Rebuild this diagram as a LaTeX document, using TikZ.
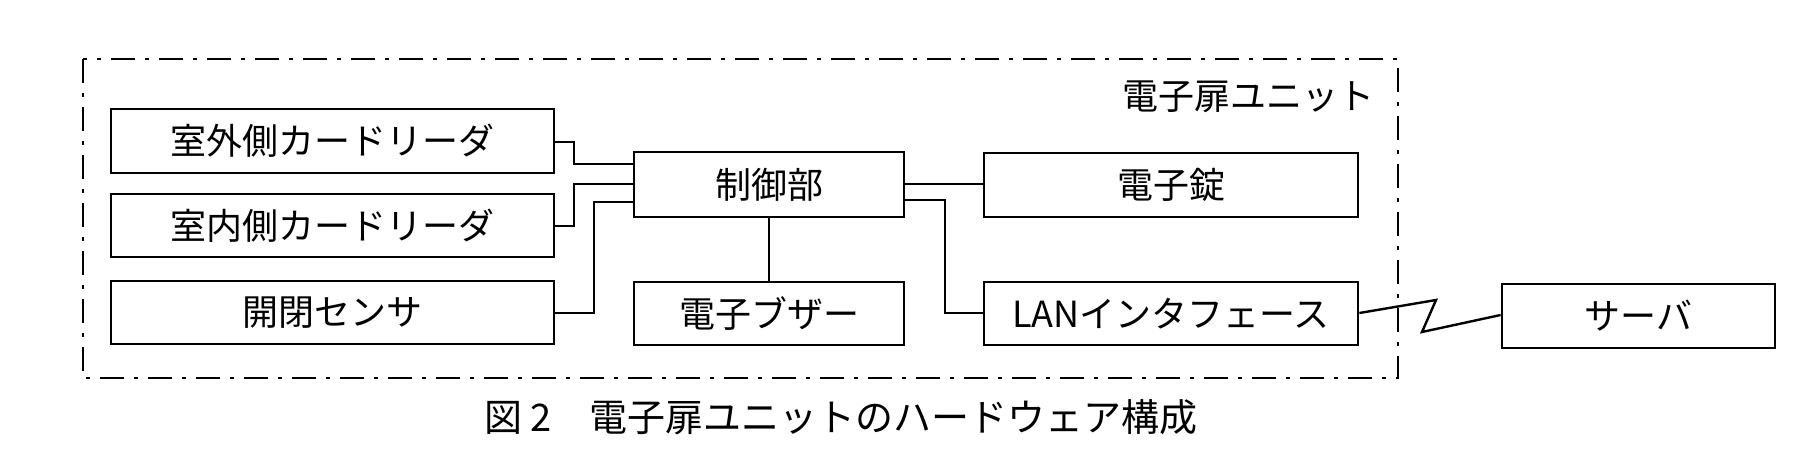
\documentclass[tikz,border=0pt]{standalone}
\usepackage{fontspec}
\setmainfont{Noto Sans CJK JP}
\begin{document}
\begin{tikzpicture}[x=1pt,y=-1pt,
  box/.style={draw,line width=2.8pt,inner sep=0pt,font=\fontsize{36}{36}\selectfont},
  wire/.style={line width=2pt}]
\useasboundingbox (0,0) rectangle (1794,474);
\draw[line width=2.2pt,dash pattern=on 24pt off 10pt on 4pt off 10pt] (83,59) rectangle (1398,378);
\node[anchor=east,font=\fontsize{36}{36}\selectfont] (unit) at (1378,97) {電子扉ユニット};
\node[box,minimum width=443pt,minimum height=64pt] (out) at (332.5,141) {室外側カードリーダ};
\node[box,minimum width=443pt,minimum height=63pt] (in) at (332.5,225.5) {室内側カードリーダ};
\node[box,minimum width=443pt,minimum height=63pt] (sen) at (332.5,312.5) {開閉センサ};
\node[box,minimum width=270pt,minimum height=65pt] (ctl) at (769,184.5) {制御部};
\node[box,minimum width=270pt,minimum height=63pt] (buz) at (769,313.5) {電子ブザー};
\node[box,minimum width=374pt,minimum height=64pt] (lock) at (1171,185) {電子錠};
\node[box,minimum width=374pt,minimum height=63pt] (lan) at (1171,313.5) {LANインタフェース};
\node[box,minimum width=273pt,minimum height=64pt] (srv) at (1638.5,316) {サーバ};
\coordinate (z1) at (1436,300);
\coordinate (z2) at (1422,332);
\draw[wire] (out.east |- 0,142) -- (574,142) -- (574,164) -- (ctl.west |- 0,164);
\draw[wire] (in.east |- 0,226) -- (574,226) -- (574,184) -- (ctl.west |- 0,184);
\draw[wire] (sen.east |- 0,313) -- (594,313) -- (594,202) -- (ctl.west |- 0,202);
\draw[wire] (ctl.east |- 0,184) -- (lock.west |- 0,184);
\draw[wire] (ctl.east |- 0,200) -- (945,200) -- (945,313) -- (lan.west |- 0,313);
\draw[wire] (ctl.south) -- (buz.north);
\draw[line width=2.4pt] (lan.east |- 0,313) -- (z1) -- (z2) -- (srv.west |- 0,315);
\node[font=\fontsize{38}{38}\selectfont] (cap) at (841,417) {図 2　電子扉ユニットのハードウェア構成};
\end{tikzpicture}
\end{document}
